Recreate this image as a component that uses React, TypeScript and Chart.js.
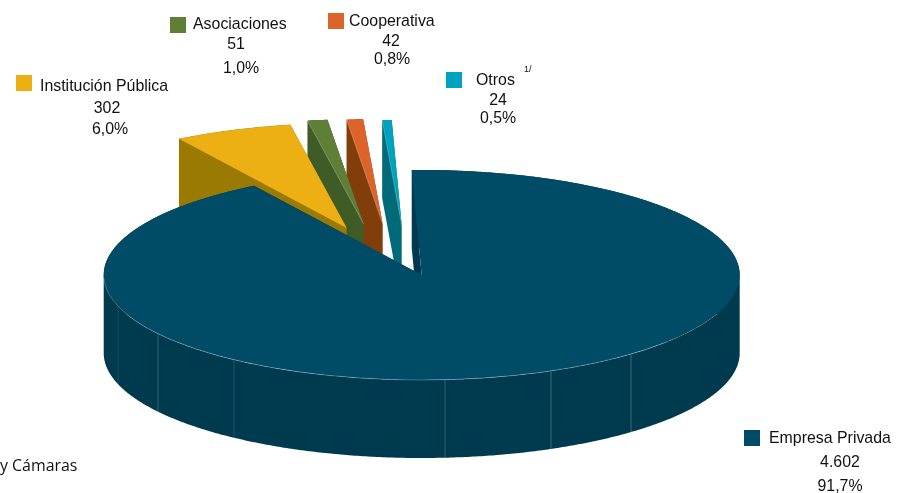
import React, { useEffect, useRef } from "react";
import { Chart, registerables } from "chart.js";

Chart.register(...registerables);

const categories = ["Empresa Privada", "Institución Pública", "Asociaciones", "Cooperativa", "Otros"];
const values = [4602, 302, 51, 42, 24];
const valueLabels = ["4.602", "302", "51", "42", "24"];
const percentLabels = ["91,7%", "6,0%", "1,0%", "0,8%", "0,5%"];
const topColors = ["#004c66", "#ecaf14", "#5f7f37", "#dc642a", "#00a3bd"];
const sideColors = ["#003a4e", "#9b7a03", "#3f5c26", "#813e0b", "#006a78"];

const W = 897;
const H = 493;
const RADIUS = 318;
const SQUASH = 105 / 318;
const DEPTH = 78;
const FONT = '"Liberation Sans", Arial, sans-serif';

// pulled-out offset of each slice, in pixels on the page
const pullX = [0, -75, -58, -39, -20];
const pullY = [0, -47, -51, -51, -50];
// faint joints on the side wall, page x and strength
const seamX = [118, 158, 234, 445, 551, 631];
const seamAlpha = [0.15, 0.32, 0.2, 0.32, 0.4, 0.4];
// legend placement per category: swatch x,y / name x,baseline / number centre,baseline / percent centre,baseline
const legend = [
  { sx: 744, sy: 430, nx: 769, ny: 443, vx: 840, vy: 467, px: 840, py: 491 },
  { sx: 16, sy: 75, nx: 40, ny: 91, vx: 107, vy: 113, px: 110, py: 134 },
  { sx: 170, sy: 17, nx: 193, ny: 29, vx: 236, vy: 49, px: 241, py: 73 },
  { sx: 328, sy: 13, nx: 349, ny: 26, vx: 391, vy: 46, px: 392, py: 64 },
  { sx: 446, sy: 72, nx: 476, ny: 85, vx: 498, vy: 105, px: 498, py: 123 },
];

function outline(arc: any, i: number) {
  const { x, y, startAngle, endAngle, outerRadius } = arc;
  const cx = x + pullX[i];
  const cy = y + pullY[i];
  const pts: [number, number][] = [[cx, cy]];
  const steps = Math.max(2, Math.ceil(((endAngle - startAngle) * 180) / Math.PI / 0.5));
  for (let s = 0; s <= steps; s++) {
    const a = startAngle + ((endAngle - startAngle) * s) / steps;
    pts.push([cx + Math.cos(a) * outerRadius, cy + Math.sin(a) * outerRadius * SQUASH]);
  }
  return pts;
}

function drawSlice(ctx: CanvasRenderingContext2D, arc: any, i: number) {
  const pts = outline(arc, i);
  ctx.beginPath();
  for (let k = 0; k < pts.length; k++) {
    const a = pts[k];
    const b = pts[(k + 1) % pts.length];
    const quad: [number, number][] = [a, b, [b[0], b[1] + DEPTH], [a[0], a[1] + DEPTH]];
    let area = 0;
    for (let q = 0; q < 4; q++) {
      const p = quad[q];
      const n = quad[(q + 1) % 4];
      area += p[0] * n[1] - n[0] * p[1];
    }
    if (area < 0) quad.reverse();
    ctx.moveTo(quad[0][0], quad[0][1]);
    for (let q = 1; q < 4; q++) ctx.lineTo(quad[q][0], quad[q][1]);
    ctx.closePath();
  }
  ctx.fillStyle = sideColors[i];
  ctx.fill();

  if (i === 0) {
    ctx.lineWidth = 0.8;
    seamX.forEach((sx, s) => {
      const t = (sx - arc.x) / arc.outerRadius;
      const rim = arc.y + arc.outerRadius * SQUASH * Math.sqrt(1 - t * t);
      ctx.strokeStyle = `rgba(190,215,225,${seamAlpha[s]})`;
      ctx.beginPath();
      ctx.moveTo(sx, rim);
      ctx.lineTo(sx, rim + DEPTH);
      ctx.stroke();
    });
  }

  ctx.save();
  ctx.translate(arc.x + pullX[i], arc.y + pullY[i]);
  ctx.scale(1, SQUASH);
  ctx.translate(-arc.x, -arc.y);
  arc.draw(ctx);
  ctx.restore();

  if (i >= 2) {
    ctx.beginPath();
    ctx.moveTo(pts[0][0], pts[0][1]);
    ctx.lineTo(pts[1][0], pts[1][1]);
    ctx.lineWidth = 0.8;
    ctx.strokeStyle = "rgba(255,255,255,0.3)";
    ctx.stroke();
  }
  if (i === 0) {
    // pale rim on the front of the disc
    ctx.beginPath();
    ctx.ellipse(arc.x, arc.y, arc.outerRadius, arc.outerRadius * SQUASH, 0, Math.PI * 0.22, Math.PI * 0.99);
    ctx.lineWidth = 0.8;
    ctx.strokeStyle = "rgba(190,215,225,0.4)";
    ctx.stroke();
  }
}

const pie3d = {
  id: "pie3d",
  beforeDatasetsDraw(chart: any) {
    const ctx: CanvasRenderingContext2D = chart.ctx;
    const arcs = chart.getDatasetMeta(0).data;
    for (const i of [4, 3, 2, 1, 0]) drawSlice(ctx, arcs[i], i);
    return false;
  },
  afterDraw(chart: any) {
    const ctx: CanvasRenderingContext2D = chart.ctx;
    ctx.save();
    ctx.textBaseline = "alphabetic";
    ctx.font = `15.9px ${FONT}`;
    categories.forEach((name, i) => {
      const l = legend[i];
      ctx.fillStyle = topColors[i];
      ctx.fillRect(l.sx, l.sy, 16, 16);
      ctx.fillStyle = "#111111";
      ctx.textAlign = "left";
      ctx.fillText(name, l.nx, l.ny);
      ctx.textAlign = "center";
      ctx.fillText(valueLabels[i], l.vx, l.vy);
      ctx.fillText(percentLabels[i], l.px, l.py);
    });
    ctx.textAlign = "left";
    ctx.font = `9px ${FONT}`;
    ctx.fillText("1/", 524, 72);
    ctx.font = '15.9px "Open Sans", sans-serif';
    ctx.fillText("y Cámaras", 0, 471);
    ctx.restore();
  },
};

export default function App() {
  const ref = useRef<HTMLCanvasElement>(null);
  useEffect(() => {
    const chart = new Chart(ref.current!, {
      type: "pie",
      data: {
        labels: categories,
        datasets: [{ data: values, backgroundColor: topColors, borderWidth: 0 }],
      },
      options: {
        animation: false,
        responsive: false,
        rotation: -1.8,
        radius: RADIUS,
        layout: { padding: { top: 57, right: 53.6 } },
        plugins: { legend: { display: false }, tooltip: { enabled: false } },
      },
      plugins: [pie3d],
    } as any);
    return () => chart.destroy();
  }, []);
  return (
    <div style={{ position: "absolute", left: 0, top: 0, width: W, height: H, background: "#fff" }}>
      <canvas ref={ref} width={W} height={H} style={{ display: "block" }} />
    </div>
  );
}
